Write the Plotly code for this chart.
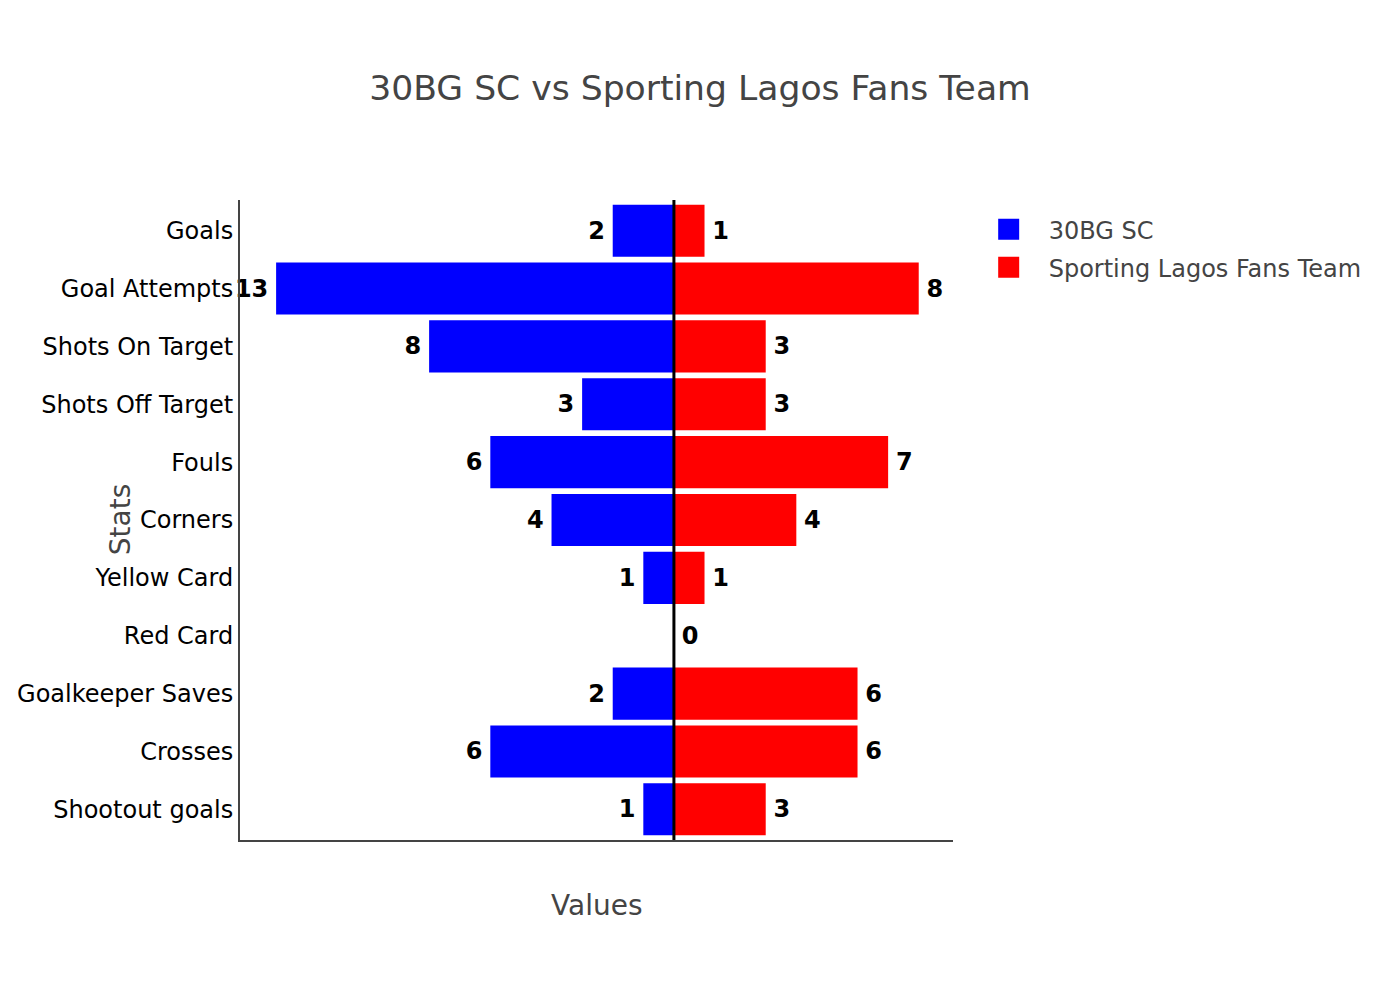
import plotly.graph_objects as go

categories = ["Goals", "Goal Attempts", "Shots On Target", "Shots Off Target", "Fouls",
              "Corners", "Yellow Card", "Red Card", "Goalkeeper Saves", "Crosses", "Shootout goals"]
team_a = "30BG SC"
team_b = "Sporting Lagos Fans Team"
values_a = [2, 13, 8, 3, 6, 4, 1, 0, 2, 6, 1]
values_b = [1, 8, 3, 3, 7, 4, 1, 0, 6, 6, 3]
color_a = "blue"
color_b = "red"

FONT = "DejaVu Sans"
SP = "\u2009"

fig = go.Figure()
fig.add_trace(go.Bar(
    y=categories, x=[-v for v in values_a], orientation="h", name=team_a,
    legendgroup="a", showlegend=False,
    marker=dict(color=color_a, line=dict(width=0)),
    text=[(str(v) + SP) if v != 0 else "" for v in values_a], textposition="outside",
    textfont=dict(family=FONT, size=24, color="black", weight="bold"),
    cliponaxis=False,
))
fig.add_trace(go.Bar(
    y=categories, x=values_b, orientation="h", name=team_b,
    legendgroup="b", showlegend=False,
    marker=dict(color=color_b, line=dict(width=0)),
    text=[SP + str(v) for v in values_b], textposition="outside",
    textfont=dict(family=FONT, size=24, color="black", weight="bold"),
    cliponaxis=False,
))
# legend entries with larger square swatches
for name, col, grp in [(team_a, color_a, "a"), (team_b, color_b, "b")]:
    fig.add_trace(go.Scatter(
        x=[None], y=[None], mode="markers", name=name, legendgroup=grp,
        marker=dict(symbol="square", size=24, color=col, line=dict(color=col, width=6)),
        showlegend=True,
    ))

fig.add_shape(type="line", xref="x", yref="paper", x0=0, x1=0, y0=0, y1=1,
              line=dict(color="black", width=3))

fig.add_annotation(text="Stats", xref="paper", yref="paper", x=-0.168, y=0.5,
                   xanchor="center", yanchor="middle", textangle=-90, showarrow=False,
                   font=dict(family=FONT, size=28, color="#444"))
fig.add_annotation(text="Values", xref="paper", yref="paper", x=0.5, y=-0.103,
                   xanchor="center", yanchor="middle", showarrow=False,
                   font=dict(family=FONT, size=28, color="#444"))

fig.update_layout(
    width=1400, height=1000,
    barmode="overlay", bargap=0.1,
    plot_bgcolor="white", paper_bgcolor="white",
    margin=dict(l=240, r=447, t=200, b=160, autoexpand=False),
    font=dict(family=FONT, size=24, color="#444"),
    title=dict(text="30BG SC vs Sporting Lagos Fans Team", x=0.5, xanchor="center",
               y=0.912, yanchor="middle", font=dict(family=FONT, size=34.6, color="#444")),
    legend=dict(x=1.022, y=0.989, xanchor="left", yanchor="top", itemwidth=70,
                tracegroupgap=4,
                font=dict(family=FONT, size=24, color="#444")),
    xaxis=dict(range=[-14.18, 9.12], showticklabels=False, showgrid=False, zeroline=False,
               showline=True, linecolor="#444", linewidth=2, ticks=""),
    yaxis=dict(range=[10.53, -0.53], showgrid=False, zeroline=False, showline=True,
               linecolor="#444", linewidth=2, ticks="",
               tickfont=dict(family=FONT, size=24, color="black")),
)

fig.write_html("out.html")
